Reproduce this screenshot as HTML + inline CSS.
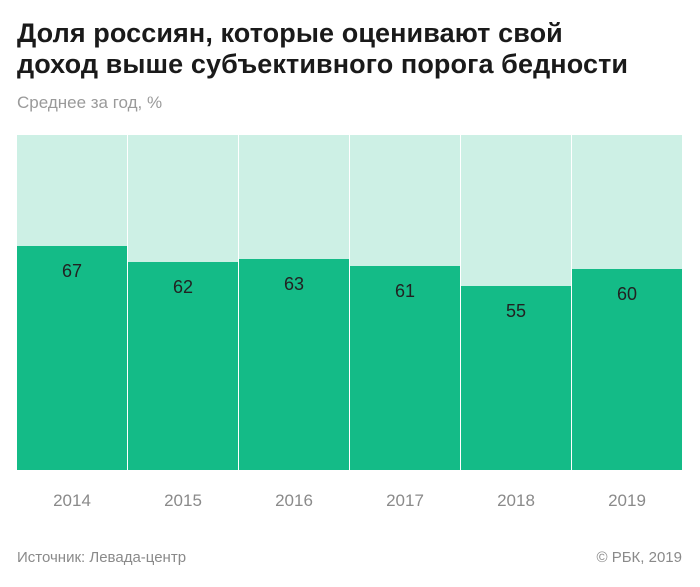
<!DOCTYPE html>
<html><head><meta charset="utf-8"><style>
body{margin:0;width:700px;height:587px;background:#fff;font-family:"Liberation Sans",sans-serif;position:relative;overflow:hidden}
.t{position:absolute;left:17px;top:18px;font-size:27px;font-weight:bold;color:#1a1a1a;line-height:31px;letter-spacing:0.1px}
.s{position:absolute;left:17px;top:93px;font-size:17px;color:#9a9a9a}
.col{position:absolute;top:135px;height:335px;width:110px;background:#cdf0e5}
.bar{position:absolute;left:0;bottom:0;width:100%;background:#14bb87}
.v{position:absolute;width:100%;text-align:center;font-size:18px;color:#222;top:15px}
.y{position:absolute;top:491px;width:110px;text-align:center;font-size:17px;color:#8a8a8a}
.f{position:absolute;top:549px;font-size:15px;color:#8a8a8a}
</style></head><body>
<div class="t">Доля россиян, которые оценивают свой<br>доход выше субъективного порога бедности</div>
<div class="s">Среднее за год, %</div>
<div class="col" style="left:17px"><div class="bar" style="height:224px"><div class="v">67</div></div></div>
<div class="col" style="left:128px"><div class="bar" style="height:208px"><div class="v">62</div></div></div>
<div class="col" style="left:239px"><div class="bar" style="height:211px"><div class="v">63</div></div></div>
<div class="col" style="left:350px"><div class="bar" style="height:204px"><div class="v">61</div></div></div>
<div class="col" style="left:461px"><div class="bar" style="height:184px"><div class="v">55</div></div></div>
<div class="col" style="left:572px;width:110px"><div class="bar" style="height:201px"><div class="v">60</div></div></div>
<div class="y" style="left:17px">2014</div>
<div class="y" style="left:128px">2015</div>
<div class="y" style="left:239px">2016</div>
<div class="y" style="left:350px">2017</div>
<div class="y" style="left:461px">2018</div>
<div class="y" style="left:572px">2019</div>
<div class="f" style="left:17px">Источник: Левада-центр</div>
<div class="f" style="right:18px">© РБК, 2019</div>
</body></html>
